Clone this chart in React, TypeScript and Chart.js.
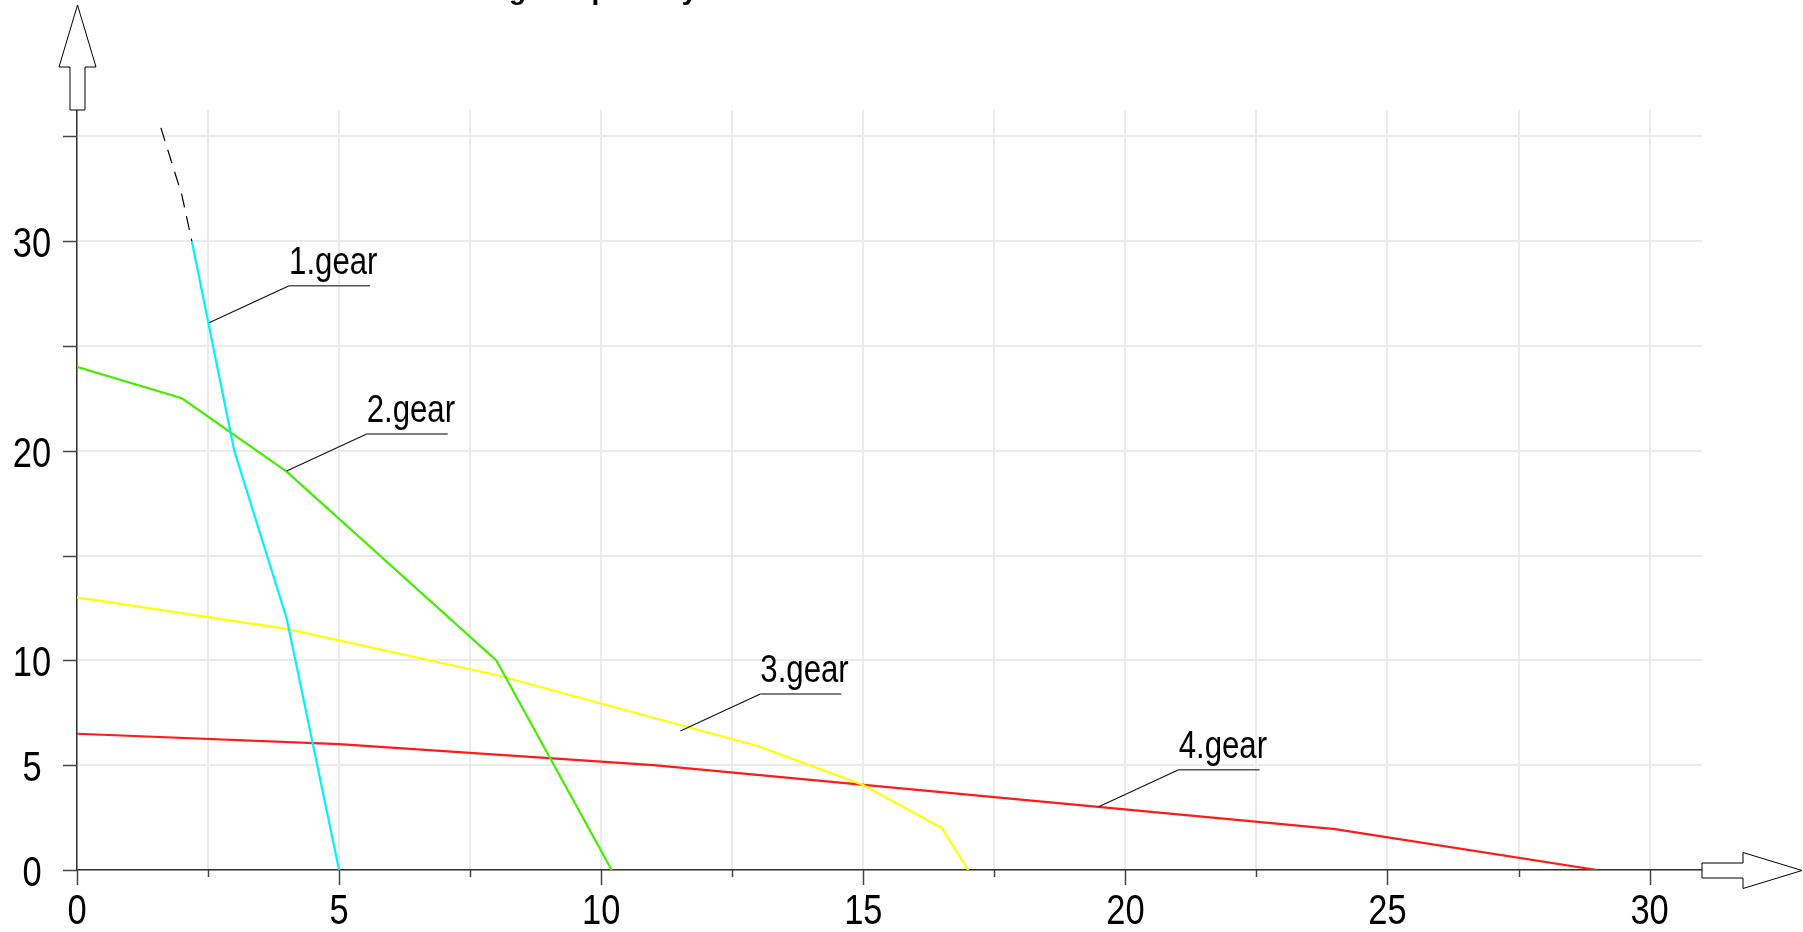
import { useEffect, useRef } from 'react';
import { Chart, registerables } from 'chart.js';

Chart.register(...registerables);

// ---- data ----
const gear1X = [2.19, 3, 4, 5];
const gear1Y = [30, 20, 12, 0];
const gear1ExtX = [1.6, 2.0, 2.19];
const gear1ExtY = [35.4, 32.2, 30];
const gear2X = [0, 2, 4, 8, 10.2];
const gear2Y = [24, 22.5, 19, 10, 0];
const gear3X = [0, 4, 8, 13, 15, 16.5, 17];
const gear3Y = [13, 11.5, 9.3, 5.9, 4.05, 2.0, 0];
const gear4X = [0, 5, 11, 24, 29];
const gear4Y = [6.5, 6.0, 5.0, 1.95, 0];

const gearLabels = ['1.gear', '2.gear', '3.gear', '4.gear'];
const labelAnchorX = [2.52, 4.0, 11.51, 19.49];
const labelAnchorY = [26.1, 19.03, 6.63, 3.02];

const xTickLabels = [0, 5, 10, 15, 20, 25, 30];
const yTickLabels = [0, 5, 10, 20, 30];

const titleText = 'Tractive force at each gear speed by';
const titleAnchorWord = 'gear';

const FONT = '"Liberation Sans", Arial, sans-serif';
const SQUEEZE = 0.82;

const pts = (xs: number[], ys: number[]) => xs.map((x, i) => ({ x, y: ys[i] }));

function squeezedText(ctx: CanvasRenderingContext2D, text: string, x: number, y: number, align: CanvasTextAlign) {
  ctx.save();
  ctx.translate(x, y);
  ctx.scale(SQUEEZE, 1);
  ctx.textAlign = align;
  ctx.fillText(text, 0, 0);
  ctx.restore();
}

const decorPlugin = {
  id: 'decor',
  afterDraw(chart: any) {
    const ctx = chart.ctx as CanvasRenderingContext2D;
    const xs = chart.scales.x;
    const ys = chart.scales.y;
    const a = chart.chartArea;
    ctx.save();

    // tick marks
    ctx.strokeStyle = '#444';
    ctx.lineWidth = 1.5;
    ys.ticks.forEach((t: any) => {
      const py = Math.round(ys.getPixelForValue(t.value)) + 0.5;
      ctx.beginPath();
      ctx.moveTo(a.left - 14, py);
      ctx.lineTo(a.left, py);
      ctx.stroke();
    });
    xs.ticks.forEach((t: any) => {
      const px = Math.round(xs.getPixelForValue(t.value)) + 0.5;
      const len = t.value % 5 === 0 ? 15 : 7;
      ctx.beginPath();
      ctx.moveTo(px, a.bottom);
      ctx.lineTo(px, a.bottom + len);
      ctx.stroke();
    });

    // tick labels
    ctx.fillStyle = '#000';
    ctx.font = `42px ${FONT}`;
    ctx.textBaseline = 'alphabetic';
    yTickLabels.forEach((v) => {
      const py = ys.getPixelForValue(v);
      squeezedText(ctx, String(v), 32, py + 16, 'center');
    });
    xTickLabels.forEach((v) => {
      const px = xs.getPixelForValue(v);
      squeezedText(ctx, String(v), px, a.bottom + 54, 'center');
    });

    // axis arrows
    ctx.fillStyle = '#fff';
    ctx.strokeStyle = '#000';
    ctx.lineWidth = 1;
    const cx = a.left + 0.5;
    ctx.beginPath();
    ctx.moveTo(cx - 7.5, a.top);
    ctx.lineTo(cx - 7.5, a.top - 43);
    ctx.lineTo(cx - 18.5, a.top - 43);
    ctx.lineTo(cx, 5);
    ctx.lineTo(cx + 18.5, a.top - 43);
    ctx.lineTo(cx + 7.5, a.top - 43);
    ctx.lineTo(cx + 7.5, a.top);
    ctx.closePath();
    ctx.fill();
    ctx.stroke();
    const cy = a.bottom + 0.5;
    ctx.beginPath();
    ctx.moveTo(a.right, cy - 7.5);
    ctx.lineTo(a.right + 41, cy - 7.5);
    ctx.lineTo(a.right + 41, cy - 18);
    ctx.lineTo(chart.width - 1, cy);
    ctx.lineTo(a.right + 41, cy + 18);
    ctx.lineTo(a.right + 41, cy + 7.5);
    ctx.lineTo(a.right, cy + 7.5);
    ctx.closePath();
    ctx.fill();
    ctx.stroke();

    // gear labels with leader lines
    ctx.font = `38px ${FONT}`;
    ctx.textBaseline = 'alphabetic';
    gearLabels.forEach((name, i) => {
      const ax = xs.getPixelForValue(labelAnchorX[i]);
      const ay = ys.getPixelForValue(labelAnchorY[i]);
      const ux = ax + 80;
      const uy = ay - 37;
      ctx.strokeStyle = '#111';
      ctx.lineWidth = 1.2;
      ctx.beginPath();
      ctx.moveTo(ax, ay);
      ctx.lineTo(ux, uy);
      ctx.stroke();
      ctx.strokeStyle = '#555';
      ctx.lineWidth = 1.5;
      ctx.beginPath();
      ctx.moveTo(ux, uy);
      ctx.lineTo(ux + 81, uy);
      ctx.stroke();
      ctx.fillStyle = '#000';
      squeezedText(ctx, name, ux, uy - 12, 'left');
    });

    // cut-off title
    ctx.font = 'bold 28px "Liberation Sans", Arial, sans-serif';
    ctx.textAlign = 'left';
    const idx = titleText.indexOf(titleAnchorWord);
    const prefixW = ctx.measureText(titleText.slice(0, idx)).width;
    ctx.fillStyle = '#000';
    ctx.fillText(titleText, 509 - prefixW, -1);

    ctx.restore();
  },
};

export default function App() {
  const ref = useRef<HTMLCanvasElement | null>(null);

  useEffect(() => {
    document.body.style.margin = '0';
    const canvas = ref.current;
    if (!canvas) return;
    const lineDs = (label: string, data: any[], color: string, extra: any = {}) => ({
      label,
      data,
      borderColor: color,
      backgroundColor: color,
      borderWidth: 2.2,
      pointRadius: 0,
      fill: false,
      tension: 0,
      ...extra,
    });
    const chart = new Chart(canvas, {
      type: 'line',
      data: {
        datasets: [
          lineDs('1.gear ext', pts(gear1ExtX, gear1ExtY), '#000', { borderWidth: 1.2, borderDash: [14, 9] }),
          lineDs('1.gear', pts(gear1X, gear1Y), '#00f2ff'),
          lineDs('2.gear', pts(gear2X, gear2Y), '#44ee00'),
          lineDs('3.gear', pts(gear3X, gear3Y), '#ffff00'),
          lineDs('4.gear', pts(gear4X, gear4Y), '#ff1a1a'),
        ],
      },
      options: {
        responsive: false,
        animation: false,
        devicePixelRatio: 1,
        layout: { padding: { top: 110, right: 101, left: 0, bottom: 0 } },
        plugins: {
          legend: { display: false },
          tooltip: { enabled: false },
          title: { display: false },
        },
        scales: {
          x: {
            type: 'linear',
            min: 0,
            max: 31,
            afterFit: (s: any) => { s.height = 62; },
            grid: { color: '#ebebeb', lineWidth: 2, drawTicks: false },
            border: { display: true, color: '#333', width: 1.5 },
            ticks: {
              display: false,
              stepSize: 2.5,
              includeBounds: false,
              autoSkip: false,
              maxRotation: 0,
            },
          },
          y: {
            type: 'linear',
            min: 0,
            max: 36.25,
            afterFit: (s: any) => { s.width = 77; },
            grid: { color: '#ebebeb', lineWidth: 2, drawTicks: false },
            border: { display: true, color: '#333', width: 1.5 },
            ticks: {
              display: false,
              stepSize: 5,
              includeBounds: false,
              autoSkip: false,
            },
          },
        },
      } as any,
      plugins: [decorPlugin],
    });
    return () => chart.destroy();
  }, []);

  return <canvas ref={ref} width={1803} height={932} style={{ display: 'block' }} />;
}
